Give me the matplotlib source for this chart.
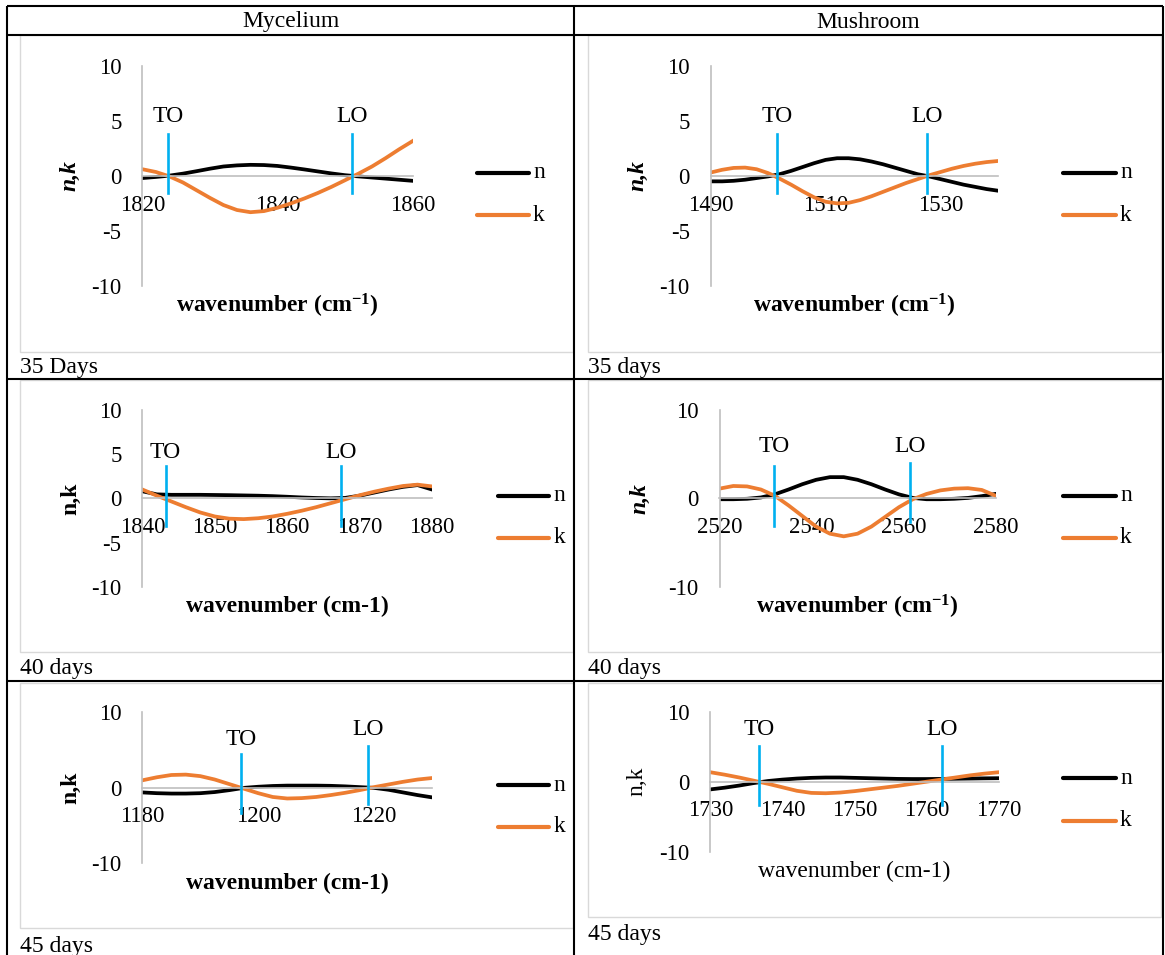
import matplotlib.pyplot as plt
from matplotlib.patches import Rectangle

plt.rcParams['font.family'] = ['Liberation Serif', 'DejaVu Serif']
plt.rcParams['mathtext.fontset'] = 'custom'
plt.rcParams['mathtext.rm'] = 'Liberation Serif'
plt.rcParams['mathtext.bf'] = 'Liberation Serif:bold'
plt.rcParams['mathtext.it'] = 'Liberation Serif:italic'
plt.rcParams['axes.unicode_minus'] = False

# ---- data ----
columns = ['Mycelium', 'Mushroom']
row_labels = [['35 Days', '35 days'], ['40 days', '40 days'], ['45 days', '45 days']]
series_names = ['n', 'k']
series_colors = ['black', '#ED7D31']
mark_names = ['TO', 'LO']

myc35_x = [1820, 1822, 1824, 1826, 1828, 1830, 1832, 1834, 1836, 1838, 1840,
           1842, 1844, 1846, 1848, 1850, 1852, 1854, 1856, 1858, 1860]
myc35_n = [-0.2, -0.1, 0.02, 0.2, 0.42, 0.65, 0.85, 0.95, 1.0, 0.98, 0.9,
           0.75, 0.58, 0.4, 0.22, 0.06, -0.05, -0.15, -0.25, -0.35, -0.45]
myc35_k = [0.6, 0.35, -0.05, -0.6, -1.3, -2.0, -2.65, -3.1, -3.3, -3.2, -2.9,
           -2.5, -2.05, -1.55, -1.0, -0.4, 0.2, 0.85, 1.6, 2.4, 3.15]
myc35_to, myc35_lo = 1823.8, 1851.0

mus35_x = [1490, 1492, 1494, 1496, 1498, 1500, 1502, 1504, 1506, 1508, 1510, 1512, 1514,
           1516, 1518, 1520, 1522, 1524, 1526, 1528, 1530, 1532, 1534, 1536, 1538, 1540]
mus35_n = [-0.5, -0.5, -0.45, -0.35, -0.2, -0.05, 0.15, 0.45, 0.8, 1.15, 1.45, 1.6, 1.6,
           1.5, 1.3, 1.05, 0.75, 0.45, 0.15, -0.05, -0.3, -0.55, -0.8, -1.0, -1.2, -1.35]
mus35_k = [0.3, 0.55, 0.72, 0.75, 0.6, 0.25, -0.25, -0.8, -1.4, -1.95, -2.35, -2.5, -2.45,
           -2.2, -1.85, -1.45, -1.05, -0.65, -0.3, 0.05, 0.35, 0.65, 0.9, 1.1, 1.25, 1.35]
mus35_to, mus35_lo = 1501.5, 1527.6

myc40_x = [1840, 1842, 1844, 1846, 1848, 1850, 1852, 1854, 1856, 1858, 1860,
           1862, 1864, 1866, 1868, 1870, 1872, 1874, 1876, 1878, 1880]
myc40_n = [0.8, 0.45, 0.4, 0.4, 0.4, 0.38, 0.36, 0.33, 0.3, 0.25, 0.18,
           0.1, 0.04, 0.0, 0.05, 0.3, 0.65, 1.0, 1.3, 1.5, 1.0]
myc40_k = [1.0, 0.3, -0.35, -1.0, -1.6, -2.05, -2.3, -2.35, -2.25, -2.05, -1.75,
           -1.4, -1.0, -0.55, -0.1, 0.35, 0.75, 1.1, 1.4, 1.55, 1.35]
myc40_to, myc40_lo = 1843.2, 1867.4

mus40_x = [2520, 2523, 2526, 2529, 2532, 2535, 2538, 2541, 2544, 2547, 2550,
           2553, 2556, 2559, 2562, 2565, 2568, 2571, 2574, 2577, 2580]
mus40_n = [-0.1, -0.1, -0.05, 0.1, 0.45, 1.0, 1.6, 2.1, 2.4, 2.4, 2.1,
           1.6, 1.0, 0.45, 0.05, -0.1, -0.1, -0.05, 0.05, 0.25, 0.5]
mus40_k = [1.1, 1.4, 1.35, 1.0, 0.3, -0.8, -2.0, -3.2, -4.0, -4.3, -4.0,
           -3.2, -2.1, -1.0, -0.1, 0.5, 0.9, 1.1, 1.15, 0.95, 0.3]
mus40_to, mus40_lo = 2531.8, 2561.5

myc45_x = [1180, 1182.5, 1185, 1187.5, 1190, 1192.5, 1195, 1197.5, 1200, 1202.5, 1205,
           1207.5, 1210, 1212.5, 1215, 1217.5, 1220, 1222.5, 1225, 1227.5, 1230]
myc45_n = [-0.65, -0.75, -0.8, -0.8, -0.75, -0.6, -0.35, -0.05, 0.1, 0.2, 0.25,
           0.25, 0.25, 0.22, 0.15, 0.05, -0.05, -0.3, -0.65, -1.0, -1.3]
myc45_k = [0.95, 1.35, 1.65, 1.7, 1.5, 1.05, 0.45, -0.15, -0.75, -1.25, -1.45,
           -1.4, -1.25, -1.0, -0.7, -0.35, 0.05, 0.4, 0.75, 1.05, 1.25]
myc45_to, myc45_lo = 1197.0, 1219.0

mus45_x = [1730, 1732, 1734, 1736, 1738, 1740, 1742, 1744, 1746, 1748, 1750,
           1752, 1754, 1756, 1758, 1760, 1762, 1764, 1766, 1768, 1770]
mus45_n = [-1.1, -0.85, -0.55, -0.2, 0.1, 0.3, 0.45, 0.55, 0.6, 0.6, 0.55,
           0.5, 0.45, 0.4, 0.38, 0.38, 0.4, 0.42, 0.45, 0.48, 0.5]
mus45_k = [1.35, 1.0, 0.6, 0.15, -0.3, -0.8, -1.3, -1.6, -1.65, -1.55, -1.35,
           -1.1, -0.85, -0.6, -0.3, 0.0, 0.3, 0.6, 0.9, 1.15, 1.35]
mus45_to, mus45_lo = 1736.8, 1762.2

# ---- layout (pixels, origin top-left) ----
W, H = 1165, 955
panels = [
    dict(x=myc35_x, n=myc35_n, k=myc35_k, marks=[myc35_to, myc35_lo],
         box=(142.4, 412.5, 65.7, 286), xticks=[1820, 1840, 1860], yticks=[-10, -5, 0, 5, 10],
         spans=[(-1.56, 3.78, 5.4), (-1.56, 3.78, 5.4)],
         ystyle=('bold', 'italic'), xbold=True, sup=True, ydx=72.5,
         leg=(477, 529, 173, 215)),
    dict(x=mus35_x, n=mus35_n, k=mus35_k, marks=[mus35_to, mus35_lo],
         box=(710.6, 998.1, 65.7, 286), xticks=[1490, 1510, 1530], yticks=[-10, -5, 0, 5, 10],
         spans=[(-1.56, 3.78, 5.4), (-1.56, 3.78, 5.4)],
         ystyle=('bold', 'italic'), xbold=True, sup=True, ydx=73,
         leg=(1063, 1116, 173, 215)),
    dict(x=myc40_x, n=myc40_n, k=myc40_k, marks=[myc40_to, myc40_lo],
         box=(142.4, 432, 410, 586.7), xticks=[1840, 1850, 1860, 1870, 1880], yticks=[-10, -5, 0, 5, 10],
         spans=[(-3.1, 3.7, 5.2), (-3.1, 3.7, 5.2)],
         ystyle=('bold', 'normal'), xbold=True, sup=False, ydx=72,
         leg=(497.6, 549.4, 495.7, 537.7)),
    dict(x=mus40_x, n=mus40_n, k=mus40_k, marks=[mus40_to, mus40_lo],
         box=(719.5, 995.6, 410, 586.7), xticks=[2520, 2540, 2560, 2580], yticks=[-10, 0, 10],
         spans=[(-3.1, 3.7, 5.85), (-2.65, 4.0, 5.85)],
         ystyle=('bold', 'italic'), xbold=True, sup=True, ydx=80,
         leg=(1063, 1116, 495.7, 537.7)),
    dict(x=myc45_x, n=myc45_n, k=myc45_k, marks=[myc45_to, myc45_lo],
         box=(142.4, 432, 711.7, 863.3), xticks=[1180, 1200, 1220], yticks=[-10, 0, 10],
         spans=[(-3.3, 4.4, 6.35), (-2.2, 5.5, 7.6)],
         ystyle=('bold', 'normal'), xbold=True, sup=False, ydx=72,
         leg=(497.6, 549.4, 785, 826.7)),
    dict(x=mus45_x, n=mus45_n, k=mus45_k, marks=[mus45_to, mus45_lo],
         box=(710.4, 998.6, 711.7, 851.7), xticks=[1730, 1740, 1750, 1760, 1770], yticks=[-10, 0, 10],
         spans=[(-3.3, 5.1, 7.4), (-3.3, 5.1, 7.4)],
         ystyle=('normal', 'normal'), xbold=False, sup=False, ydx=73,
         leg=(1063, 1116, 778.3, 820.7)),
]

fig = plt.figure(figsize=(W / 100, H / 100), dpi=100)
bg = fig.add_axes([0, 0, 1, 1])
bg.set_xlim(0, W)
bg.set_ylim(H, 0)
bg.axis('off')

# chart frames
frames = [(20, 573, 35, 352), (588, 1161, 35, 352),
          (20, 573, 380, 652), (588, 1161, 380, 652),
          (20, 573, 683, 928), (588, 1161, 683, 917)]
for fx0, fx1, fy0, fy1 in frames:
    bg.add_patch(Rectangle((fx0, fy0), fx1 - fx0, fy1 - fy0, facecolor='white',
                           edgecolor='#D9D9D9', lw=1.0))

# table lines
tl = dict(color='black', lw=1.5, solid_capstyle='butt')
bg.plot([7, 1163], [6, 6], **tl)
bg.plot([7, 1163], [35, 35], **tl)
bg.plot([7, 1163], [379, 379], **tl)
bg.plot([7, 1163], [681, 681], **tl)
bg.plot([7, 7], [6, 955], **tl)
bg.plot([574, 574], [6, 955], **tl)
bg.plot([1163, 1163], [6, 955], **tl)

bg.text(290.5, 22, columns[0], ha='center', va='center', fontsize=17)
bg.text(868, 22, columns[1], ha='center', va='center', fontsize=17)
label_pos = [(367.5, 367.5), (668.5, 668.5), (946, 934)]
for (yl, yr), (tl_, tr_) in zip(label_pos, row_labels):
    bg.text(20, yl, tl_, ha='left', va='center', fontsize=17)
    bg.text(588, yr, tr_, ha='left', va='center', fontsize=17)

for p in panels:
    x0, x1, y0, y1 = p['box']
    wpx, hpx = x1 - x0, y1 - y0
    ax = fig.add_axes([x0 / W, 1 - y1 / H, wpx / W, hpx / H])
    ax.set_facecolor('none')
    for name, col in zip(series_names, series_colors):
        ax.plot(p['x'], p[name], color=col, lw=2.7)
    for xm, (lo, hi, ly), mname in zip(p['marks'], p['spans'], mark_names):
        ax.plot([xm, xm], [lo, hi], color='#00B0F0', lw=1.9, zorder=5)
        ax.text(xm, ly, mname, ha='center', va='center', fontsize=17)
    ax.set_xlim(p['x'][0], p['x'][-1])
    ax.set_ylim(-10, 10)
    ax.set_xticks(p['xticks'])
    ax.set_yticks(p['yticks'])
    ax.spines['top'].set_visible(False)
    ax.spines['right'].set_visible(False)
    ax.spines['left'].set_color('#BFBFBF')
    ax.spines['left'].set_linewidth(1.2)
    ax.spines['bottom'].set_position(('data', 0))
    ax.spines['bottom'].set_color('#BFBFBF')
    ax.spines['bottom'].set_linewidth(1.2)
    ax.set_axisbelow(True)
    ax.tick_params(length=0, labelsize=16.4)
    ax.tick_params(axis='x', pad=13.5)
    ax.tick_params(axis='y', pad=15)

    yw, ys = p['ystyle']
    ax.set_ylabel('n,k', fontsize=17, fontweight=yw, fontstyle=ys, va='center')
    ax.yaxis.set_label_coords(-p['ydx'] / wpx, 0.5)
    if p['sup']:
        xl = r'wavenumber (cm$^{\mathbf{-1}}$)'
    else:
        xl = 'wavenumber (cm-1)'
    ax.set_xlabel(xl, fontsize=17, fontweight='bold' if p['xbold'] else 'normal', va='center')
    ax.xaxis.set_label_coords(0.5, -20 / hpx)

    lx0, lx1, ny, ky = p['leg']
    for name, col, yy in zip(series_names, series_colors, [ny, ky]):
        bg.plot([lx0, lx1], [yy, yy], color=col, lw=3.0, solid_capstyle='round')
        bg.text(lx1 + 4, yy, name, ha='left', va='center', fontsize=17)

fig.savefig('out.png', dpi=100)
